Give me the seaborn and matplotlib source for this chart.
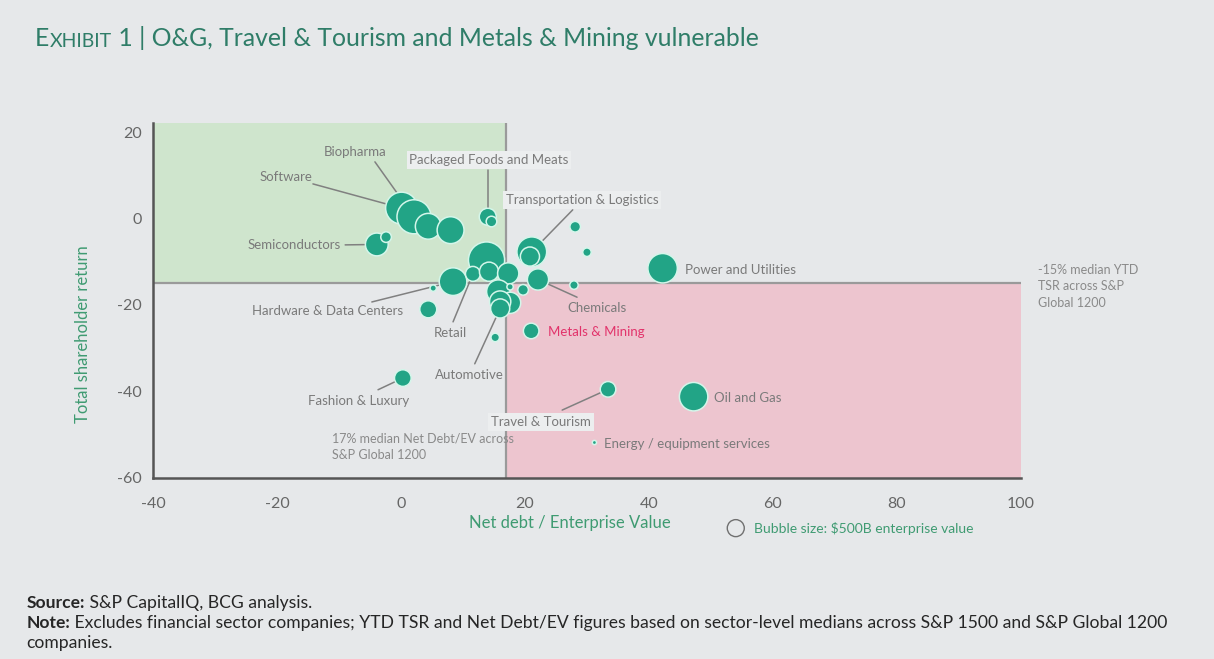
import numpy as np
import pandas as pd
import matplotlib
matplotlib.use("Agg")
import matplotlib.pyplot as plt
from matplotlib.text import Annotation
import seaborn as sns

# sector-level medians
sectors = ["Software", "Biopharma", "", "", "Semiconductors", "",
           "Packaged Foods and Meats", "", "Transportation & Logistics", "",
           "", "Hardware & Data Centers", "Retail", "", "", "Chemicals",
           "", "", "", "", "Automotive", "", "", "", "",
           "Metals & Mining", "", "", "", "Power and Utilities",
           "Oil and Gas", "Travel & Tourism", "Energy / equipment services",
           "Fashion & Luxury"]
net_debt_ev = [0.1, 2.1, 4.4, 8.0, -3.9, -2.4,
               14.0, 14.6, 21.1, 20.8,
               13.8, 8.4, 11.6, 14.2, 17.3, 22.1,
               5.2, 15.7, 17.6, 16.0, 16.0, 17.6, 19.7, 4.4, 15.2,
               21.0, 28.1, 30.0, 27.9, 42.2,
               47.2, 33.4, 31.2, 0.3]
tsr = [2.4, 0.4, -1.8, -2.7, -6.0, -4.3,
       0.4, -0.7, -7.7, -8.8,
       -9.6, -14.6, -12.8, -12.3, -12.7, -14.1,
       -16.1, -16.9, -19.5, -19.2, -20.8, -15.8, -16.5, -21.0, -27.5,
       -26.0, -1.9, -7.8, -15.4, -11.5,
       -41.2, -39.5, -51.8, -36.9]
ev_bn = [1760, 2000, 1150, 1250, 900, 195,
         500, 195, 1530, 633,
         2260, 1320, 383, 633, 780, 780,
         70, 945, 780, 780, 633, 70, 195, 500, 125,
         420, 195, 125, 125, 1500,
         1400, 420, 31, 480]

median_nd_ev = 17
median_tsr = -15
legend_ev = 500

df = pd.DataFrame({"sector": sectors, "nd_ev": net_debt_ev, "tsr": tsr, "ev": ev_bn})

BG = "#e6e8ea"
TEAL = "#22a486"
GREEN_TXT = "#3f9b72"
GREY = "#7a7a7a"

sns.set_style("white")
plt.rcParams["font.family"] = ["Lato", "DejaVu Sans"]
plt.rcParams["axes.unicode_minus"] = False

fig = plt.figure(figsize=(12.14, 6.59), dpi=100, facecolor=BG)
ax = fig.add_axes([0.126, 0.2747, 0.715, 0.5381], facecolor=BG)

xmin, xmax, ymin, ymax = -40, 100, -60, 22
ax.fill_between([xmin, median_nd_ev], median_tsr, ymax, color="#cfe5cd", lw=0, zorder=0)
ax.fill_between([median_nd_ev, xmax], ymin, median_tsr, color="#edc5cf", lw=0, zorder=0)
ax.plot([xmin, xmax], [median_tsr, median_tsr], color="#9a9a9a", lw=1.6, zorder=1)
ax.plot([median_nd_ev, median_nd_ev], [ymin, ymax], color="#9a9a9a", lw=1.6, zorder=1)

# bubble area ~ enterprise value
k = 0.30
sns.scatterplot(data=df, x="nd_ev", y="tsr", size="ev", sizes=(0, k * 2500),
                size_norm=(0, 2500), color=TEAL, edgecolor="#d4f6ea",
                linewidth=1.1, alpha=1, legend=False, ax=ax, zorder=4)

# labels: (text, text xy, line start or None, ha, boxed)
labels = [
    ("Biopharma", (-7.4, 15.4), (-4.2, 13.1), "center", False),
    ("Software", (-18.5, 9.6), (-14.2, 8.0), "center", False),
    ("Semiconductors", (-17.3, -6.1), (-9.0, -6.1), "center", False),
    ("Packaged Foods and Meats", (14.2, 13.5), (14.0, 11.2), "center", True),
    ("Transportation & Logistics", (29.2, 4.3), (27.7, 2.0), "center", True),
    ("Power and Utilities", (45.8, -11.9), None, "left", False),
    ("Hardware & Data Centers", (-11.9, -21.4), (-4.7, -19.3), "center", False),
    ("Retail", (7.9, -26.5), (8.4, -23.9), "center", False),
    ("Automotive", (11.1, -36.2), (11.9, -33.6), "center", False),
    ("Chemicals", (31.6, -20.7), (28.4, -18.2), "center", False),
    ("Metals & Mining", (23.7, -26.2), None, "left", False),
    ("Fashion & Luxury", (-6.9, -42.2), (-3.7, -39.6), "center", False),
    ("Travel & Tourism", (22.6, -47.1), (26.0, -44.3), "center", True),
    ("Oil and Gas", (50.5, -41.5), None, "left", False),
    ("Energy / equipment services", (32.7, -52.1), None, "left", False),
]
for name, txy, lstart, ha, box in labels:
    row = df[df.sector == name].iloc[0]
    if lstart is not None:
        ax.plot([lstart[0], row.nd_ev], [lstart[1], row.tsr], color="#808080",
                lw=1.1, zorder=3)
    color = "#e2336b" if name == "Metals & Mining" else GREY
    bbox = dict(facecolor="#eceeef", edgecolor="none", pad=2.0) if box else None
    ax.text(txy[0], txy[1], name, ha=ha, va="center", fontsize=9.5, color=color,
            bbox=bbox, zorder=5)

ax.text(-11.1, -52.8, "17% median Net Debt/EV across\nS&P Global 1200", ha="left",
        va="center", fontsize=9, color="#8a8a8a", linespacing=1.5, zorder=2)
ax.text(102.7, -10.5, "-15% median YTD\nTSR across S&P\nGlobal 1200", ha="left",
        va="top", fontsize=9, color="#8a8a8a", linespacing=1.45, clip_on=False)

# bubble size key
ax.scatter([54.0], [-71.6], s=k * legend_ev, facecolor="none",
           edgecolor="#707070", lw=1.0, clip_on=False)
ax.text(56.9, -71.6, "Bubble size: $500B enterprise value", ha="left", va="center",
        fontsize=10, color=GREEN_TXT)

ax.set_xlim(xmin, xmax)
ax.set_ylim(ymin, ymax)
ax.set_xticks(range(-40, 101, 20))
ax.set_yticks(range(-60, 21, 20))
ax.tick_params(labelsize=11.5, colors="#666666", length=0)
ax.tick_params(axis="x", pad=14)
ax.tick_params(axis="y", pad=8)
for s in ["top", "right"]:
    ax.spines[s].set_visible(False)
for s in ["left", "bottom"]:
    ax.spines[s].set_color("#555555")
    ax.spines[s].set_linewidth(1.8)

ax.set_xlabel("Net debt / Enterprise Value", fontsize=12, color=GREEN_TXT)
ax.set_ylabel("Total shareholder return", fontsize=12, color=GREEN_TXT)
ax.xaxis.set_label_coords(0.48, -0.105)
ax.yaxis.set_label_coords(-0.071, 0.405)

# title with small caps "Exhibit"
TITLE_C = "#2f7d68"
t1 = fig.text(0.029, 0.942, "E", fontsize=17.8, color=TITLE_C, va="center")
t2 = fig.add_artist(Annotation("XHIBIT", xy=(1, 0), xycoords=t1, va="bottom",
                               fontsize=14, color=TITLE_C))
fig.add_artist(Annotation(" 1 | O&G, Travel & Tourism and Metals & Mining vulnerable",
                          xy=(1, 0), xycoords=t2, va="bottom", fontsize=17.8,
                          color=TITLE_C))

# footer
FS = 12.6
f1 = fig.text(0.022, 0.085, "Source:", fontsize=FS, fontweight="bold", va="center")
fig.add_artist(Annotation(" S&P CapitalIQ, BCG analysis.", xy=(1, 0), xycoords=f1,
                          va="bottom", fontsize=FS))
f2 = fig.text(0.022, 0.055, "Note:", fontsize=FS, fontweight="bold", va="center")
fig.add_artist(Annotation(
    " Excludes financial sector companies; YTD TSR and Net Debt/EV figures based on "
    "sector-level medians across S&P 1500 and S&P Global 1200", xy=(1, 0),
    xycoords=f2, va="bottom", fontsize=FS))
fig.text(0.022, 0.025, "companies.", fontsize=FS, va="center")

fig.savefig("out.png", dpi=100, facecolor=BG)
